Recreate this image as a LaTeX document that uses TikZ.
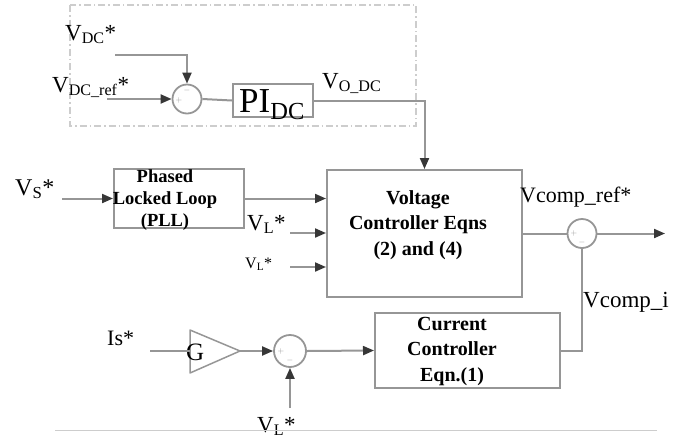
\documentclass[tikz,border=0pt]{standalone}
\usepackage{fontspec}
\setmainfont{Liberation Serif}
\usetikzlibrary{arrows.meta,positioning,calc}
\definecolor{DiagLine}{RGB}{150,150,150}
\definecolor{DiagHead}{RGB}{55,55,55}
\definecolor{DiagFrame}{RGB}{205,205,205}

\begin{document}
\begin{tikzpicture}[
  x=1pt,y=-1pt,
  blk/.style={draw=DiagLine,line width=2pt,inner sep=0pt},
  blktxt/.style={align=center,inner sep=0pt,font=\fontsize{20}{25.5}\selectfont\bfseries},
  sumj/.style={circle,draw=DiagLine,line width=1.8pt,minimum size=29pt,inner sep=0pt},
  wire/.style={DiagLine,line width=2pt},
  arr/.style={wire,-{Triangle[length=11pt,width=9pt,color=DiagHead]}},
  lbl/.style={inner sep=0pt,anchor=base west,font=\fontsize{23}{25}\selectfont},
  sgn/.style={inner sep=0pt,text=DiagLine,font=\fontsize{8}{8}\selectfont}
]
  \useasboundingbox (0,0) rectangle (683,440);

  % dc link loop
  \draw[DiagFrame,line width=1.5pt,dash pattern=on 7pt off 3pt on 1.5pt off 3pt]
    (70,5) rectangle (416,126);
  \node[sumj] (sum1) at (187,99) {};
  \node[sgn] (sum1m) at (187,90) {$-$};
  \node[sgn] (sum1p) at (179,100) {$+$};
  \node[blk,minimum width=80pt,minimum height=33pt] (pidc) at (273,100.5) {};
  \node[lbl,font=\fontsize{35}{37}\selectfont] (pidctxt) at (239,112) {PI\textsubscript{DC}};

  % main blocks
  \node[blk,minimum width=130pt,minimum height=59pt] (pll) at (179,198.5) {};
  \node[blktxt,font=\fontsize{18.5}{22}\selectfont\bfseries] (plltxt) at (165,200)
    {Phased\\Locked Loop\\(PLL)};
  \node[blk,minimum width=195pt,minimum height=127pt] (volt) at (424.5,233.5) {};
  \node[blktxt] (volttxt) at (418,225) {Voltage\\Controller Eqns\\(2) and (4)};
  \node[sumj] (sum2) at (582,233.5) {};
  \node[sgn] (sum2p) at (574,233.5) {$+$};
  \node[sgn] (sum2m) at (582,242) {$-$};
  \node[blk,minimum width=185pt,minimum height=75pt] (cur) at (467.5,350.5) {};
  \node[blktxt] (curtxt) at (452,351) {Current\\Controller\\Eqn.(1)};
  \node[sumj,minimum size=32pt] (sum3) at (290,351) {};
  \node[sgn] (sum3p) at (281,351) {$+$};
  \node[sgn] (sum3m) at (290,360) {$-$};

  % gain
  \coordinate (gin) at (190,351);
  \coordinate (gtip) at (240,351);
  \draw[DiagLine,line width=1.5pt,line join=round] (190,330) -- (gtip) -- (190,373) -- cycle;
  \node[lbl,font=\fontsize{25}{27}\selectfont] (gtxt) at (186,360) {G};

  % signal labels
  \node[lbl] (vdc) at (65,40) {V\textsubscript{DC}*};
  \node[lbl] (vdcref) at (52,92) {V\textsubscript{DC\_ref}*};
  \node[lbl] (vodc) at (322,88) {V\textsubscript{O\_DC}};
  \node[lbl,font=\fontsize{24}{26}\selectfont] (vs) at (15,195) {V\textsubscript{S}*};
  \node[lbl] (vl) at (247,230) {V\textsubscript{L}*};
  \node[lbl,font=\fontsize{16}{18}\selectfont] (vls) at (245,268) {V\textsubscript{L}*};
  \node[lbl,font=\fontsize{22}{24}\selectfont] (vcref) at (520,202) {Vcomp\_ref*};
  \node[lbl] (vci) at (583,307) {Vcomp\_i};
  \node[lbl,font=\fontsize{22}{24}\selectfont] (is) at (107,345) {Is*};
  \node[lbl] (vlb) at (257,432) {V\textsubscript{L}*};

  % free ends
  \coordinate (vdcin) at (115,55);
  \coordinate (vrefin) at (107,99);
  \coordinate (vsin) at (62,198.5);
  \coordinate (vlin) at (290,233);
  \coordinate (vlsin) at (290,267);
  \coordinate (vout) at (665,233.5);
  \coordinate (isin) at (150,351);
  \coordinate (vlbin) at (290,408);

  % connectors
  \draw[arr] (vdcin) -| (sum1.north);
  \draw[arr] (vrefin) -- (sum1.west);
  \draw[wire] (sum1.east) -- (pidc.west);
  \draw[arr] (pidc.east) -| (volt.north);
  \draw[arr] (vsin) -- (pll.west);
  \draw[arr] (pll.east) -- (pll.east -| volt.west);
  \draw[arr] (vlin) -- (vlin -| volt.west);
  \draw[arr] (vlsin) -- (vlsin -| volt.west);
  \draw[wire] (volt.east) -- (sum2.west);
  \draw[arr] (sum2.east) -- (vout);
  \draw[wire] (cur.east) -| (sum2.south);
  \draw[wire] (isin) -- (gin);
  \draw[arr] (gtip) -- (sum3.west);
  \draw[arr] (sum3.east) -- (cur.west);
  \draw[arr] (vlbin) -- (sum3.south);

  \draw[DiagFrame,line width=1pt] (55,430) -- (657,430);
\end{tikzpicture}
\end{document}
